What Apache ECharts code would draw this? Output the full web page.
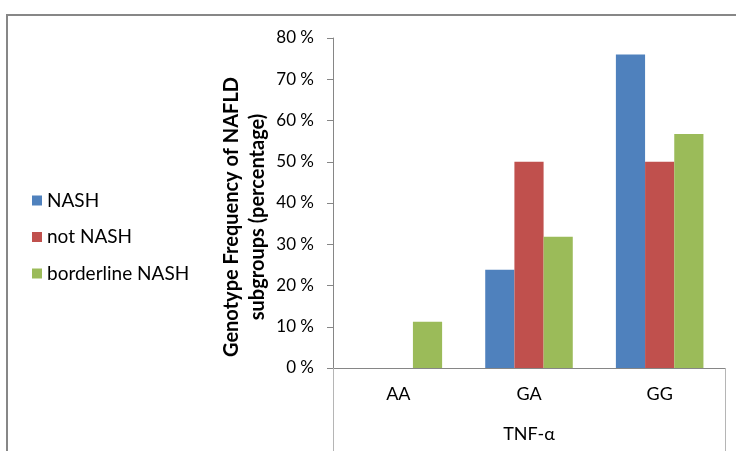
<!DOCTYPE html>
<html>
<head>
<meta charset="utf-8">
<script src="https://cdn.jsdelivr.net/npm/echarts@6/dist/echarts.min.js"></script>
<style>
  html, body { margin: 0; padding: 0; background: #fff; }
  #chart { width: 736px; height: 451px; }
</style>
</head>
<body>
<div id="chart"></div>
<script>
// Genotype categories of the TNF-α polymorphism
const categories = ['AA', 'GA', 'GG'];
const groupTitle = ['TNF-\u03b1'];

// Genotype frequency (%) per NAFLD subgroup
const nashValues = [0, 23.8, 76.0];
const notNashValues = [0, 50.0, 50.0];
const borderlineValues = [11.2, 31.8, 56.7];

const seriesNames = ['NASH', 'not NASH', 'borderline NASH'];
const seriesColors = ['#4F81BD', '#C0504D', '#9BBB59'];

const yTicks = { min: 0, max: 80, interval: 10 };
const yTitle = 'Genotype Frequency of NAFLD\nsubgroups (percentage)';

const font = 'Lato, "Open Sans", "Liberation Sans", sans-serif';
const axisGrey = '#868686';

const chart = echarts.init(document.getElementById('chart'), null, { renderer: 'canvas' });

const values = [nashValues, notNashValues, borderlineValues];

chart.setOption({
  animation: false,
  backgroundColor: '#ffffff',
  textStyle: { fontFamily: font, color: '#000' },
  grid: { left: 333, right: 11, top: 38, bottom: 83, containLabel: false },
  legend: {
    orient: 'vertical',
    left: 27,
    top: 186,
    padding: 5,
    itemWidth: 10,
    itemHeight: 10,
    itemGap: 17.5,
    icon: 'rect',
    data: seriesNames,
    textStyle: { fontFamily: font, fontSize: 19, color: '#000' }
  },
  xAxis: [
    {
      type: 'category',
      data: categories,
      position: 'bottom',
      axisLine: { show: true, lineStyle: { color: axisGrey, width: 1 } },
      axisTick: { show: false },
      axisLabel: { fontFamily: font, fontSize: 18, color: '#000', margin: 17 }
    },
    {
      type: 'category',
      data: groupTitle,
      position: 'bottom',
      axisLine: { show: false },
      axisTick: { show: true, length: 83, lineStyle: { color: '#b5b5b5', width: 1 } },
      axisLabel: { fontFamily: font, fontSize: 18, color: '#000', margin: 57 }
    }
  ],
  yAxis: {
    type: 'value',
    min: yTicks.min,
    max: yTicks.max,
    interval: yTicks.interval,
    axisLine: { show: true, lineStyle: { color: axisGrey, width: 1 } },
    axisTick: { show: true, length: 6, lineStyle: { color: axisGrey } },
    splitLine: { show: false },
    axisLabel: {
      fontFamily: font, fontSize: 17, color: '#000', margin: 19,
      formatter: '{value} %'
    }
  },
  graphic: [
    {
      type: 'rect',
      shape: { x: 7, y: 15, width: 760, height: 460 },
      style: { fill: 'none', stroke: '#878787', lineWidth: 2 },
      silent: true
    },
    {
      type: 'text',
      x: 245,
      y: 217,
      rotation: Math.PI / 2,
      style: {
        text: yTitle,
        fontFamily: font,
        fontSize: 20,
        fontWeight: 'bold',
        lineHeight: 26,
        fill: '#000',
        align: 'center',
        verticalAlign: 'middle'
      },
      silent: true
    }
  ],
  series: seriesNames.map((name, i) => ({
    name,
    type: 'bar',
    xAxisIndex: 0,
    data: values[i],
    barGap: '0%',
    barCategoryGap: '33%',
    itemStyle: { color: seriesColors[i] }
  }))
});
</script>
</body>
</html>
